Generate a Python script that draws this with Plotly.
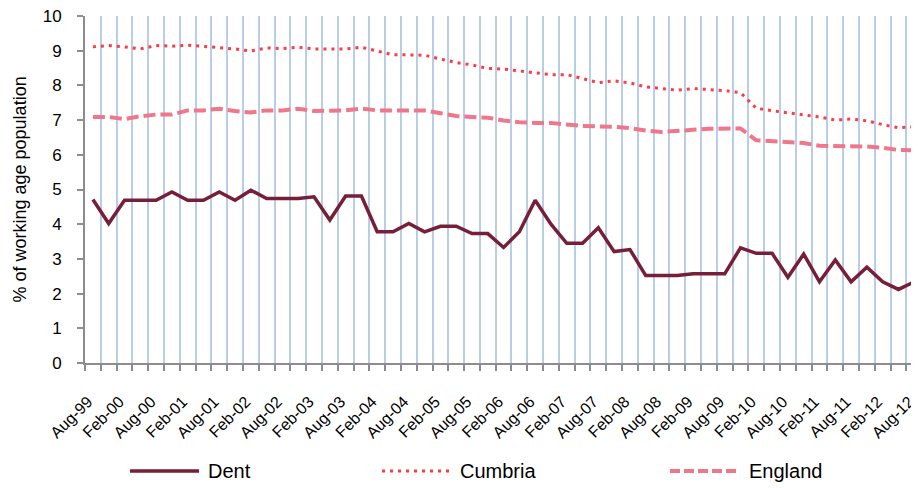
import plotly.graph_objects as go

months = ["Aug", "Nov", "Feb", "May"]
# Quarterly categories Aug-99 ... Aug-12
quarters = []
for i in range(53):
    m = months[i % 4]
    yr = 1999 + (i + 2) // 4 if m in ("Feb", "May") else 1999 + i // 4
    quarters.append(f"{m}-{yr % 100:02d}")

dent = [4.71, 4.02, 4.69, 4.69, 4.69, 4.93, 4.69, 4.69, 4.93, 4.69,
        4.98, 4.74, 4.74, 4.74, 4.79, 4.12, 4.81, 4.81, 3.78, 3.78,
        4.02, 3.78, 3.94, 3.94, 3.73, 3.73, 3.33, 3.78, 4.69, 4.00,
        3.45, 3.45, 3.90, 3.21, 3.27, 2.52, 2.52, 2.52, 2.57, 2.57,
        2.57, 3.32, 3.16, 3.16, 2.47, 3.14, 2.34, 2.97, 2.34, 2.76,
        2.34, 2.12, 2.34]

cumbria = [9.11, 9.15, 9.11, 9.05, 9.15, 9.13, 9.16, 9.13, 9.09, 9.05,
           8.99, 9.08, 9.06, 9.10, 9.05, 9.05, 9.05, 9.10, 9.00, 8.88,
           8.88, 8.87, 8.76, 8.66, 8.59, 8.49, 8.47, 8.42, 8.36, 8.31,
           8.31, 8.19, 8.08, 8.13, 8.07, 7.96, 7.90, 7.86, 7.91, 7.89,
           7.85, 7.79, 7.34, 7.27, 7.22, 7.15, 7.09, 7.00, 7.03, 6.98,
           6.87, 6.78, 6.81]

england = [7.09, 7.09, 7.03, 7.11, 7.16, 7.16, 7.28, 7.28, 7.33, 7.26,
           7.22, 7.28, 7.28, 7.33, 7.26, 7.26, 7.28, 7.33, 7.28, 7.28,
           7.28, 7.28, 7.20, 7.12, 7.09, 7.07, 6.99, 6.94, 6.92, 6.92,
           6.87, 6.83, 6.82, 6.81, 6.77, 6.70, 6.66, 6.70, 6.72, 6.75,
           6.76, 6.76, 6.42, 6.40, 6.36, 6.34, 6.26, 6.25, 6.25, 6.24,
           6.20, 6.14, 6.13]

tick_idx = list(range(0, 53, 2))
tick_text = [quarters[i] for i in tick_idx]

C_DENT = "#761F37"
C_CUMB = "#FF3B42"
C_ENG = "#EF7789"
FONT = "Liberation Sans, Arial, sans-serif"

xs = list(range(len(quarters)))

fig = go.Figure()
fig.add_trace(go.Scatter(x=xs, y=england, mode="lines", name="England",
                         line=dict(color=C_ENG, width=4, dash="12px,5px")))
fig.add_trace(go.Scatter(x=xs, y=cumbria, mode="lines", name="Cumbria",
                         line=dict(color=C_CUMB, width=3, dash="3px,5px")))
fig.add_trace(go.Scatter(x=xs, y=dent, mode="lines", name="Dent",
                         line=dict(color=C_DENT, width=3.5)))

# page has an 8px body margin: figure sits at (8, 8)
OFF = 8
W, H = 919 - OFF, 488 - OFF
L, R, T = 85 - OFF, 0, 16 - OFF
B = H - (363 - OFF)
pw = W - L - R
ph = H - T - B

def px(x):  # page pixel -> paper
    return (x - OFF - L) / pw

def py(y):
    return (H - B - (y - OFF)) / ph

# manual legend
legend_items = [
    ("Dent", C_DENT, 3.5, "solid", 130, 199, 206),
    ("Cumbria", C_CUMB, 3, "3px,5px", 382, 452, 458),
    ("England", C_ENG, 4, "10px,4px", 670, 740, 747),
]
shapes = []
annotations = []
ly = 471
for name, col, w, dash, x0, x1, tx in legend_items:
    shapes.append(dict(type="line", xref="paper", yref="paper",
                       x0=px(x0), x1=px(x1), y0=py(ly), y1=py(ly),
                       line=dict(color=col, width=w, dash=dash)))
    annotations.append(dict(xref="paper", yref="paper", x=px(tx), y=py(ly),
                            text=name, showarrow=False, xanchor="left",
                            yanchor="middle",
                            font=dict(family=FONT, size=20, color="#000")))

annotations.append(dict(xref="paper", yref="paper", x=px(19), y=0.5,
                        text="% of working age population", textangle=-90,
                        showarrow=False, xanchor="center", yanchor="middle",
                        font=dict(family=FONT, size=18, color="#000")))

fig.update_layout(
    width=W, height=H,
    margin=dict(l=L, r=R, t=T, b=B, pad=0),
    paper_bgcolor="white", plot_bgcolor="white",
    showlegend=False,
    shapes=shapes, annotations=annotations,
    xaxis=dict(
        range=[-0.5, 52.3],
        tickmode="array", tickvals=tick_idx, ticktext=tick_text,
        tickangle=-45, ticks="", showgrid=False, zeroline=False,
        showline=True, linecolor="#8C8C8C", linewidth=2,
        tickfont=dict(family=FONT, size=16, color="#000"),
        ticklabelstandoff=21, ticklabelshift=-5, ticklabeloverflow="allow",
        minor=dict(tickmode="array",
                   tickvals=[i - 0.5 for i in range(53)],
                   ticks="outside", ticklen=6, tickwidth=2,
                   tickcolor="#8C8C8C",
                   showgrid=True, gridcolor="#B9CDE5", gridwidth=2),
    ),
    yaxis=dict(
        range=[0, 10], dtick=1, tick0=0, showgrid=False, zeroline=False,
        showline=True, linecolor="#8C8C8C", linewidth=2,
        ticks="outside", ticklen=6, tickwidth=2, tickcolor="#8C8C8C",
        tickfont=dict(family=FONT, size=17, color="#000"),
        ticklabelstandoff=12, ticklabeloverflow="allow",
    ),
)

fig.write_html("out.html")
